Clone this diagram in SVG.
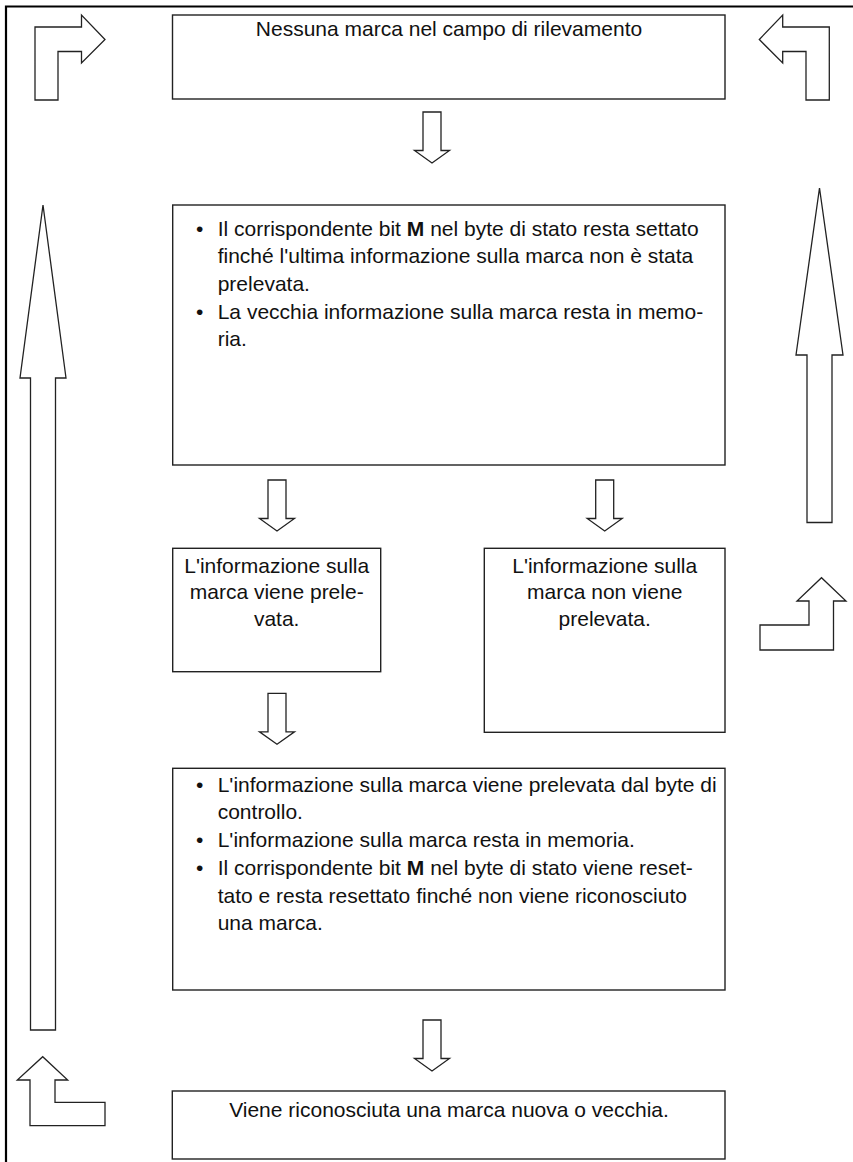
<svg xmlns="http://www.w3.org/2000/svg" width="853" height="1162" viewBox="0 0 853 1162">
<style>
.box{fill:#fff;stroke:#222;stroke-width:1.4}
.arr{fill:#fff;stroke:#222;stroke-width:1.3;stroke-linejoin:miter}
.frame{stroke:#000;stroke-width:2.2;fill:none}
text{font-family:"Liberation Sans",Arial,sans-serif;font-size:21px;fill:#111}
.c{text-anchor:middle}
</style>
<defs>
<path id="down" d="M-9,0 L9,0 L9,38.5 L17.5,38.5 L0,51 L-17.5,38.5 L-9,38.5 Z"/>
</defs>
<g id="frame">
<path class="frame" d="M6,5.5 L6,1162 M5,6.5 L853,6.5"/>
</g>
<g id="connectors">
<use href="#down" class="arr" x="432" y="112"/>
<use href="#down" class="arr" x="277" y="480"/>
<use href="#down" class="arr" x="604.7" y="480"/>
<use href="#down" class="arr" x="277" y="693.3"/>
<use href="#down" class="arr" x="432" y="1020"/>
<path class="arr" d="M35,100 L35,27 L81.5,27 L81.5,15 L105,39.5 L81.5,63 L81.5,51.5 L58,51.5 L58,100 Z"/>
<path class="arr" d="M829.3,100 L829.3,27 L782.7,27 L782.7,15 L759.3,39.5 L782.7,63 L782.7,51.5 L806,51.5 L806,100 Z"/>
<path class="arr" d="M30.5,1030 L30.5,378 L20,378 L43,205 L66,378 L55.5,378 L55.5,1030 Z"/>
<path class="arr" d="M807,522.5 L807,355 L796,355 L819.5,188 L843,355 L832,355 L832,522.5 Z"/>
<path class="arr" d="M760,650 L760,625 L809,625 L809,601 L797,601 L821.5,577.7 L846,601 L833.5,601 L833.5,650 Z"/>
<path class="arr" d="M105,1125.7 L30,1125.7 L30,1080 L17.3,1080 L42.7,1056.7 L67.7,1080 L55,1080 L55,1102.3 L105,1102.3 Z"/>
</g>
<g id="n1">
<rect class="box" x="172.5" y="15" width="552.5" height="84"/>
<text class="c" x="449" y="36">Nessuna marca nel campo di rilevamento</text>
</g>
<g id="n2">
<rect class="box" x="172.7" y="205" width="552.3" height="260"/>
<text x="196" y="236">•</text>
<text x="217.7" y="236">Il corrispondente bit <tspan font-weight="bold">M</tspan> nel byte di stato resta settato</text>
<text x="217.7" y="263">finché l'ultima informazione sulla marca non è stata</text>
<text x="217.7" y="290.5">prelevata.</text>
<text x="196" y="319">•</text>
<text x="217.7" y="319">La vecchia informazione sulla marca resta in memo-</text>
<text x="217.7" y="346">ria.</text>
</g>
<g id="n3">
<rect class="box" x="172.7" y="548.3" width="208" height="123.4"/>
<text class="c" x="276.7" y="572.7">L'informazione sulla</text>
<text class="c" x="276.7" y="599.4">marca viene prele-</text>
<text class="c" x="276.7" y="626.1">vata.</text>
</g>
<g id="n4">
<rect class="box" x="484.3" y="548.3" width="240.7" height="184"/>
<text class="c" x="604.7" y="572.7">L'informazione sulla</text>
<text class="c" x="604.7" y="599.4">marca non viene</text>
<text class="c" x="604.7" y="626.1">prelevata.</text>
</g>
<g id="n5">
<rect class="box" x="172.7" y="768.3" width="552.3" height="221.7"/>
<text x="196" y="791.7">•</text>
<text x="217.7" y="791.7">L'informazione sulla marca viene prelevata dal byte di</text>
<text x="217.7" y="819.4">controllo.</text>
<text x="196" y="847.1">•</text>
<text x="217.7" y="847.1">L'informazione sulla marca resta in memoria.</text>
<text x="196" y="874.8">•</text>
<text x="217.7" y="874.8">Il corrispondente bit <tspan font-weight="bold">M</tspan> nel byte di stato viene reset-</text>
<text x="217.7" y="902.5">tato e resta resettato finché non viene riconosciuto</text>
<text x="217.7" y="930.2">una marca.</text>
</g>
<g id="n6">
<rect class="box" x="172.3" y="1091" width="552.7" height="68"/>
<text class="c" x="449" y="1116.5">Viene riconosciuta una marca nuova o vecchia.</text>
</g>
</svg>
